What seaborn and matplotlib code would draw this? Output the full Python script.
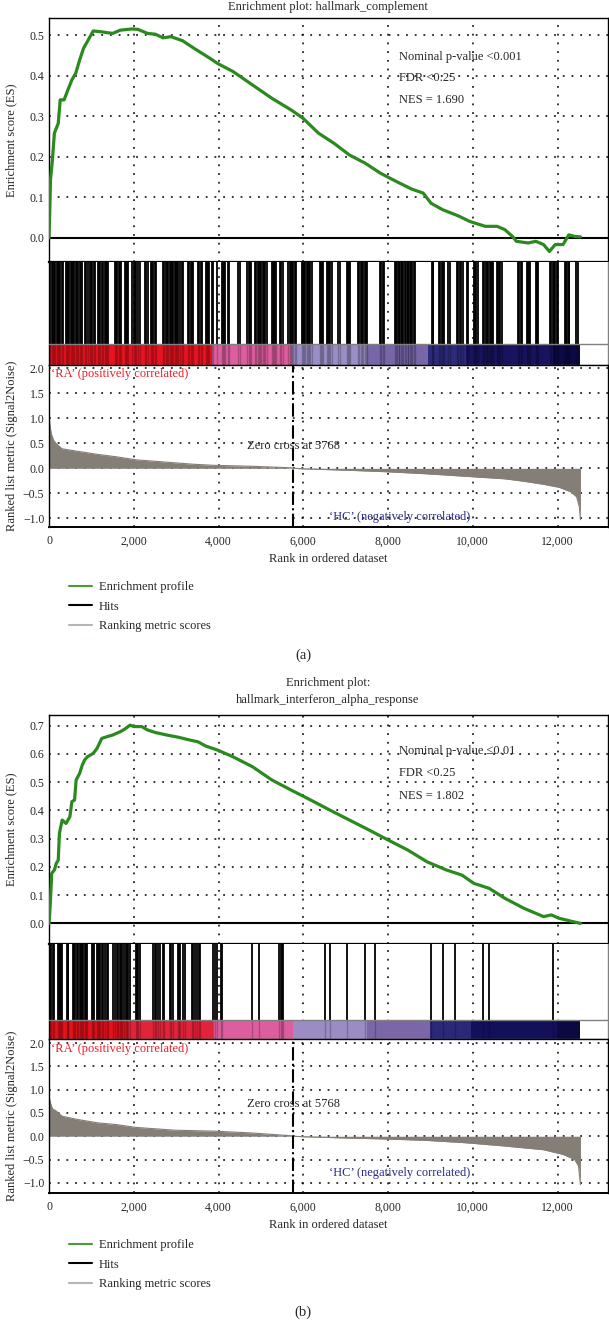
import numpy as np
import pandas as pd
import matplotlib
matplotlib.use("Agg")
import matplotlib.pyplot as plt
from matplotlib.lines import Line2D
from matplotlib.ticker import FuncFormatter
import seaborn as sns

# ---------------- data ----------------
N_GENES = 12540
ZERO_CROSS = 5768

# (a) hallmark_complement
es_rank_a = [0, 17, 35, 81, 127, 218, 264, 356, 447, 539, 631, 722, 814, 905, 1043, 1226,
             1501, 1684, 1959, 2096, 2325, 2509, 2692, 2875, 3150, 3425, 3791, 3975, 4341,
             4799, 5257, 5715, 5990, 6357, 6723, 7089, 7456, 7822, 8189, 8555, 8830, 9013,
             9288, 9654, 9929, 10296, 10571, 10754, 10937, 11029, 11304, 11487, 11670, 11807,
             11945, 12128, 12265, 12403, 12540]
es_val_a = [0.0, 0.061, 0.143, 0.192, 0.258, 0.282, 0.340, 0.340, 0.365, 0.389, 0.406, 0.438,
            0.467, 0.484, 0.510, 0.508, 0.504, 0.512, 0.515, 0.514, 0.504, 0.502, 0.493, 0.496,
            0.486, 0.467, 0.443, 0.430, 0.410, 0.377, 0.344, 0.315, 0.295, 0.258, 0.233, 0.204,
            0.184, 0.159, 0.139, 0.120, 0.110, 0.085, 0.069, 0.054, 0.040, 0.028, 0.028, 0.020,
            0.003, -0.009, -0.013, -0.009, -0.017, -0.034, -0.017, -0.017, 0.007, 0.003, 0.002]

hits_a = [0, 30, 60, 90, 120, 140, 181, 210, 240, 270, 300, 330, 393, 420, 450, 480, 510, 540,
          570, 600, 630, 660, 690, 731, 760, 790, 849, 880, 910, 967, 995, 1025, 1055, 1085,
          1148, 1175, 1203, 1242, 1270, 1321, 1350, 1380, 1400, 1557, 1585, 1615, 1645, 1675,
          1699, 1793, 1820, 1850, 1872, 1966, 1995, 2025, 2045, 2108, 2140, 2265, 2295, 2328,
          2406, 2435, 2462, 2501, 2530, 2698, 2725, 2755, 2785, 2815, 2845, 2875, 2905, 2935,
          2965, 2990, 3012, 3052, 3085, 3130, 3165, 3287, 3315, 3350, 3375, 3400, 3523, 3550,
          3580, 3602, 3697, 3725, 3750, 3775, 3840, 3870, 3956, 4074, 4100, 4130, 4152, 4220,
          4250, 4455, 4500, 4678, 4710, 4740, 4758, 4860, 4890, 4920, 4950, 4980, 5010, 5040,
          5070, 5100, 5135, 5253, 5280, 5310, 5330, 5355, 5450, 5480, 5513, 5646, 5675, 5705,
          5735, 5765, 5795, 5827, 5961, 5990, 6020, 6050, 6080, 6110, 6140, 6170, 6197, 6393,
          6420, 6450, 6472, 6551, 6580, 6610, 6640, 6669, 6826, 6860, 7022, 7050, 7080, 7101,
          7298, 7325, 7355, 7385, 7415, 7445, 7470, 7494, 7809, 7840, 7870, 7903, 8162, 8190,
          8220, 8250, 8265, 8297, 8330, 8360, 8398, 8430, 8460, 8477, 8516, 8545, 8575, 8605,
          8634, 9028, 9050, 9067, 9207, 9235, 9265, 9295, 9318, 9420, 9460, 9632, 9660, 9690,
          9720, 9759, 9868, 9892, 10026, 10055, 10085, 10128, 10246, 10275, 10305, 10335,
          10365, 10395, 10425, 10455, 10482, 10561, 10590, 10620, 10650, 10679, 11072, 11100,
          11130, 11151, 11269, 11300, 11330, 11347, 11489, 11515, 11543, 11819, 11850, 11882,
          11913, 11945, 11975, 12015, 12173, 12200, 12230, 12260, 12274, 12432, 12479]

met_rank_a = [0, 17, 53, 109, 173, 310, 677, 1134, 1593, 2051, 2509, 2967, 3425, 3883, 4799,
              5715, 5768, 5990, 7089, 8005, 8921, 9837, 10754, 11212, 11670, 12036, 12311,
              12449, 12513, 12540]
met_val_a = [1.09, 0.89, 0.69, 0.56, 0.49, 0.39, 0.34, 0.28, 0.23, 0.17, 0.14, 0.11, 0.08,
             0.06, 0.04, 0.01, 0.0, -0.01, -0.04, -0.07, -0.11, -0.16, -0.21, -0.26, -0.32,
             -0.38, -0.47, -0.57, -0.77, -1.03]

band_start_a = [0, 3840, 5740, 7494, 8950, 9850, 11900]
band_color_a = ["#e8131f", "#dc5e9e", "#9a8ec4", "#7866a8", "#2c2a7c", "#17135e", "#0c0a44"]

stats_a = ["Nominal p-value <0.001", "FDR <0.25", "NES = 1.690"]

# (b) hallmark_interferon_alpha_response
es_rank_b = [0, 17, 35, 63, 127, 173, 218, 246, 310, 402, 493, 539, 603, 640, 722, 786, 841,
             905, 1043, 1134, 1244, 1363, 1501, 1684, 1776, 1913, 2005, 2188, 2325, 2509, 2783,
             3058, 3333, 3516, 3699, 3974, 4341, 4799, 5257, 5715, 6173, 6631, 7089, 7547,
             8005, 8463, 8921, 9379, 9745, 10020, 10387, 10754, 11212, 11670, 11853, 12036,
             12311, 12540]
es_val_b = [0.0, 0.035, 0.083, 0.177, 0.189, 0.213, 0.224, 0.319, 0.366, 0.354, 0.378, 0.431,
            0.437, 0.508, 0.531, 0.561, 0.579, 0.590, 0.602, 0.620, 0.655, 0.661, 0.667, 0.679,
            0.687, 0.702, 0.697, 0.697, 0.685, 0.676, 0.667, 0.659, 0.649, 0.643, 0.628, 0.614,
            0.590, 0.555, 0.508, 0.472, 0.437, 0.401, 0.366, 0.331, 0.295, 0.260, 0.218, 0.189,
            0.171, 0.142, 0.124, 0.089, 0.053, 0.024, 0.030, 0.018, 0.008, 0.0]

hits_b = [0, 25, 47, 102, 126, 204, 230, 260, 290, 315, 417, 440, 456, 574, 600, 625, 652,
          692, 720, 750, 780, 810, 840, 865, 888, 1006, 1040, 1069, 1124, 1150, 1180, 1210,
          1240, 1282, 1321, 1360, 1400, 1518, 1550, 1596, 1636, 1670, 1700, 1730, 1778, 1805,
          1832, 1872, 1911, 2045, 2080, 2110, 2147, 2462, 2490, 2517, 2580, 2619, 2698, 2721,
          2855, 2890, 2934, 3036, 3065, 3091, 3169, 3208, 3366, 3400, 3440, 3484, 3539, 3562,
          3877, 3910, 3956, 4058, 4090, 4789, 4954, 5433, 5470, 5500, 5528, 6511, 6629, 7037,
          7455, 7698, 9004, 9302, 9570, 10246, 10388, 11882]

met_rank_b = [0, 35, 81, 173, 310, 677, 1134, 1593, 2051, 2509, 2967, 3883, 4799, 5715, 5768,
              5990, 7089, 8005, 8921, 9837, 10754, 11670, 12128, 12403, 12494, 12540]
met_val_b = [0.86, 0.71, 0.59, 0.54, 0.43, 0.36, 0.29, 0.25, 0.19, 0.16, 0.13, 0.11, 0.07,
             0.01, 0.0, -0.01, -0.04, -0.06, -0.09, -0.14, -0.21, -0.29, -0.39, -0.50, -0.64,
             -1.04]

band_start_b = [0, 1872, 3870, 5764, 7494, 8988, 9955, 11977]
band_color_b = ["#e3121b", "#e2243a", "#dd5e9e", "#9b8dc3", "#7b67a6", "#2a2877", "#13105a",
                "#0b0a40"]

stats_b = ["Nominal p-value \u22640.01", "FDR <0.25", "NES = 1.802"]

x_ticks = [0, 2000, 4000, 6000, 8000, 10000, 12000]

# ---------------- styling ----------------
sns.set_style("white")
plt.rcParams["font.family"] = ["Liberation Serif", "DejaVu Serif"]
plt.rcParams["axes.unicode_minus"] = True

W, H = 609, 1320
GREEN = "#2b8a1f"
GREY = "#857e77"
DOT = (0, (1.2, 4.5))
FS = 9


def fx(px):
    return px / W


def fy(px):
    return 1 - px / H


def frame(top, bottom):
    return [fx(48.5), fy(bottom), fx(608) - fx(48.5), (bottom - top) / H]


def base_axis(ax):
    ax.set_xlim(-12, 13190)
    ax.set_xticks(x_ticks)
    ax.tick_params(length=0, labelsize=8.5, pad=3)
    ax.grid(True, color="black", linestyle=DOT, linewidth=1.1)
    for s in ax.spines.values():
        s.set_color("black")
        s.set_linewidth(1.0)


def draw_panel(fig, y, es_rank, es_val, es_ylim, es_ticks, hits, band_start, band_color,
               met_rank, met_val, met_ylim, stats, stats_y, ra_y, zero_y, hc_y):
    # enrichment score
    ax_es = fig.add_axes(frame(y["es_top"], y["es_bot"]))
    base_axis(ax_es)
    df = pd.DataFrame({"rank": es_rank, "es": es_val})
    sns.lineplot(data=df, x="rank", y="es", color=GREEN, linewidth=2.3, ax=ax_es,
                 legend=False, zorder=3)
    ax_es.axhline(0, color="black", linewidth=1.5, zorder=2)
    ax_es.set_ylim(*es_ylim)
    ax_es.set_yticks(es_ticks)
    ax_es.tick_params(labelbottom=False)
    ax_es.set_xlabel("")
    ax_es.set_ylabel("Enrichment score (ES)", fontsize=FS)
    ax_es.yaxis.set_label_coords(-0.055, 0.5)
    ax_es.spines["bottom"].set_linewidth(1.6)
    for txt, yy in zip(stats, stats_y):
        ax_es.text(8250, yy, txt, fontsize=FS, va="center", ha="left")

    # hits + colour bar
    ax_h = fig.add_axes(frame(y["es_bot"], y["bar_bot"]))
    base_axis(ax_h)
    ax_h.grid(False, axis="y")
    frac = y["bar_h"] / (y["bar_bot"] - y["es_bot"])
    ax_h.set_ylim(0, 1)
    ax_h.set_yticks([])
    ax_h.tick_params(labelbottom=False)
    widths = list(np.diff(band_start + [N_GENES]))
    ax_h.bar(band_start, [frac] * len(band_start), width=widths, align="edge",
             color=band_color, linewidth=0, zorder=2)
    ax_h.vlines(hits, frac, 1, color="black", linewidth=1.3, zorder=3)
    ax_h.vlines(hits, 0, frac, color="black", linewidth=1.0, alpha=0.22, zorder=3)
    ax_h.axhline(frac, color="#808080", linewidth=1.0, zorder=4)
    ax_h.spines["top"].set_visible(False)
    ax_h.spines["right"].set_color("#808080")
    ax_h.spines["bottom"].set_color("#808080")

    # ranked list metric
    ax_m = fig.add_axes(frame(y["bar_bot"], y["met_bot"]))
    base_axis(ax_m)
    ax_m.fill_between(met_rank, 0, met_val, color=GREY, linewidth=0, zorder=2)
    sns.lineplot(x=met_rank, y=met_val, color=GREY, linewidth=0.8, ax=ax_m, legend=False,
                 zorder=2)
    ax_m.axvline(ZERO_CROSS, color="black", linestyle="-.", linewidth=1.5, zorder=3)
    ax_m.set_ylim(*met_ylim)
    ax_m.set_yticks([-1.0, -0.5, 0.0, 0.5, 1.0, 1.5, 2.0])
    ax_m.xaxis.set_major_formatter(FuncFormatter(lambda v, p: f"{v:,.0f}"))
    ax_m.tick_params(axis="x", pad=6)
    ax_m.set_xlabel("Rank in ordered dataset", fontsize=FS, labelpad=4)
    ax_m.set_ylabel("Ranked list metric (Signal2Noise)", fontsize=FS)
    ax_m.yaxis.set_label_coords(-0.055, 0.5)
    ax_m.spines["bottom"].set_linewidth(1.4)
    ax_m.text(40, ra_y, "\u2018RA\u2019 (positively correlated)", color="#ee1c24",
              fontsize=FS, va="center", ha="left")
    ax_m.text(5780, zero_y, "Zero cross at 5768", fontsize=FS, va="center", ha="center")
    ax_m.text(8280, hc_y, "\u2018HC\u2019 (negatively correlated)", color="#2b2a85",
              fontsize=FS, va="center", ha="center")

    # legend
    handles = [Line2D([], [], color="#4a9a3a", linewidth=1.5),
               Line2D([], [], color="black", linewidth=1.5),
               Line2D([], [], color="#b8b4ae", linewidth=1.5)]
    fig.legend(handles, ["Enrichment profile", "Hits", "Ranking metric scores"],
               loc="upper left", bbox_to_anchor=(fx(69), fy(y["leg_top"])), frameon=False,
               borderpad=0, borderaxespad=0, handlelength=1.8, handletextpad=0.6,
               labelspacing=0.62, fontsize=FS)


fig = plt.figure(figsize=(W / 100, H / 100), dpi=100)

fig.text(fx(328), fy(7), "Enrichment plot: hallmark_complement", ha="center", va="center",
         fontsize=FS)
draw_panel(fig, dict(es_top=18, es_bot=262, bar_h=21, bar_bot=365, met_bot=527, leg_top=581),
           es_rank_a, es_val_a, (-0.060, 0.542), [0.0, 0.1, 0.2, 0.3, 0.4, 0.5],
           hits_a, band_start_a, band_color_a, met_rank_a, met_val_a, (-1.174, 2.066),
           stats_a, [0.447, 0.394, 0.340], 1.886, 0.446, -0.968)
fig.text(fx(303), fy(655), "(a)", ha="center", va="center", fontsize=10.5)

fig.text(fx(328), fy(683), "Enrichment plot:", ha="center", va="center", fontsize=FS)
fig.text(fx(328), fy(700), "hallmark_interferon_alpha_response", ha="center", va="center",
         fontsize=FS)
draw_panel(fig, dict(es_top=715, es_bot=944, bar_h=19, bar_bot=1039, met_bot=1193,
                     leg_top=1239),
           es_rank_b, es_val_b, (-0.073, 0.738), [0.0, 0.1, 0.2, 0.3, 0.4, 0.5, 0.6, 0.7],
           hits_b, band_start_b, band_color_b, met_rank_b, met_val_b, (-1.22, 2.09),
           stats_b, [0.611, 0.532, 0.451], 1.877, 0.695, -0.79)
fig.text(fx(303), fy(1312), "(b)", ha="center", va="center", fontsize=10.5)

fig.savefig("out.png", dpi=100)
